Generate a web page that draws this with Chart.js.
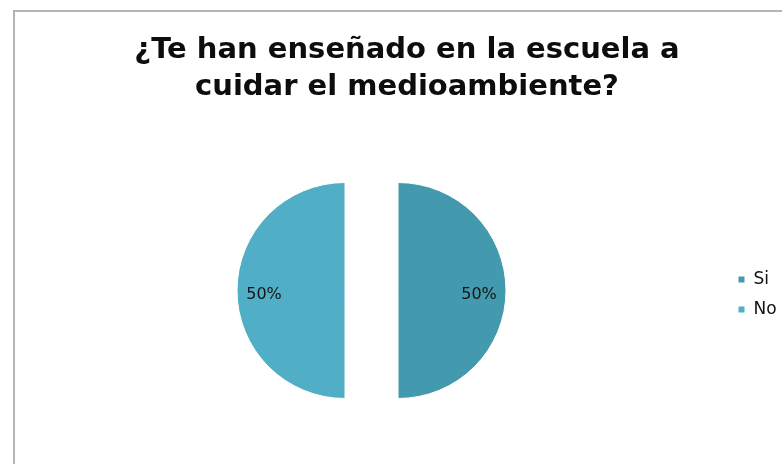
<!DOCTYPE html>
<html>
<head>
<meta charset="utf-8">
<script src="https://cdn.jsdelivr.net/npm/chart.js@4"></script>
<style>
  html, body { margin:0; padding:0; background:#fff; overflow:hidden; width:782px; height:464px; }
  #frame { position:absolute; left:13px; top:10px; width:900px; height:600px; border-left:2px solid #b4b4b4; border-top:2px solid #b4b4b4; }
  #wrap { position:absolute; left:0; top:0; width:814px; height:464px; }
</style>
</head>
<body>
<div id="frame"></div>
<div id="wrap"><canvas id="c" width="814" height="464"></canvas></div>
<script>
const titleLines = ['¿Te han enseñado en la escuela a', 'cuidar el medioambiente?'];
const categories = ['Si', 'No'];
const values = [50, 50];
const colors = ['#4399ad', '#50aec6'];

const EXPLODE = 26.5;      // px each slice is pulled out
const LEGEND_WIDTH = 71;   // px

// widen the legend box so the title stays centred over the whole frame
const legendWidth = {
  id: 'legendWidth',
  beforeInit(chart) {
    const orig = chart.legend.fit;
    chart.legend.fit = function () {
      orig.call(this);
      this.width = LEGEND_WIDTH;
    };
  }
};

// draw each slice pulled out from the centre, plus its percentage label
const explodedPie = {
  id: 'explodedPie',
  beforeDatasetDraw(chart, args) {
    const ctx = chart.ctx;
    const meta = args.meta;
    const total = values.reduce((a, b) => a + b, 0);
    meta.data.forEach((arc, i) => {
      const p = arc.getProps(['x', 'y', 'startAngle', 'endAngle', 'outerRadius'], true);
      const mid = (p.startAngle + p.endAngle) / 2;
      ctx.save();
      ctx.translate(Math.cos(mid) * EXPLODE, Math.sin(mid) * EXPLODE);
      arc.draw(ctx);
      ctx.restore();
    });
    ctx.save();
    ctx.font = '16px "DejaVu Sans"';
    ctx.fillStyle = '#151515';
    ctx.textAlign = 'center';
    ctx.textBaseline = 'alphabetic';
    meta.data.forEach((arc, i) => {
      const p = arc.getProps(['x', 'y', 'startAngle', 'endAngle', 'outerRadius'], true);
      const mid = (p.startAngle + p.endAngle) / 2;
      const r = p.outerRadius * 0.75 + EXPLODE;
      const x = p.x + Math.cos(mid) * r;
      const y = p.y + Math.sin(mid) * r;
      ctx.fillText(Math.round(values[i] / total * 100) + '%', x, y + 8);
    });
    ctx.restore();
    return false;
  }
};

new Chart(document.getElementById('c'), {
  type: 'pie',
  data: {
    labels: categories,
    datasets: [{
      data: values,
      backgroundColor: colors,
      borderColor: '#ffffff',
      borderWidth: 1,
      radius: 108
    }]
  },
  options: {
    responsive: false,
    animation: false,
    events: [],
    layout: { padding: { left: 18, right: 18, top: 0, bottom: 0 } },
    plugins: {
      title: {
        display: true,
        text: titleLines,
        color: '#0d0d0d',
        font: { family: 'DejaVu Sans', size: 29, weight: 'bold', lineHeight: 1.276 },
        padding: { top: 32, bottom: 11 }
      },
      legend: {
        position: 'right',
        fullSize: false,
        title: { display: true, text: '', font: { size: 5, lineHeight: 1 }, padding: { top: 1.5, bottom: 1.5 } },
        labels: {
          boxWidth: 7,
          boxHeight: 7,
          color: '#111',
          font: { family: 'DejaVu Sans', size: 17 },
          padding: 13
        }
      },
      tooltip: { enabled: false }
    }
  },
  plugins: [legendWidth, explodedPie]
});
</script>
</body>
</html>
